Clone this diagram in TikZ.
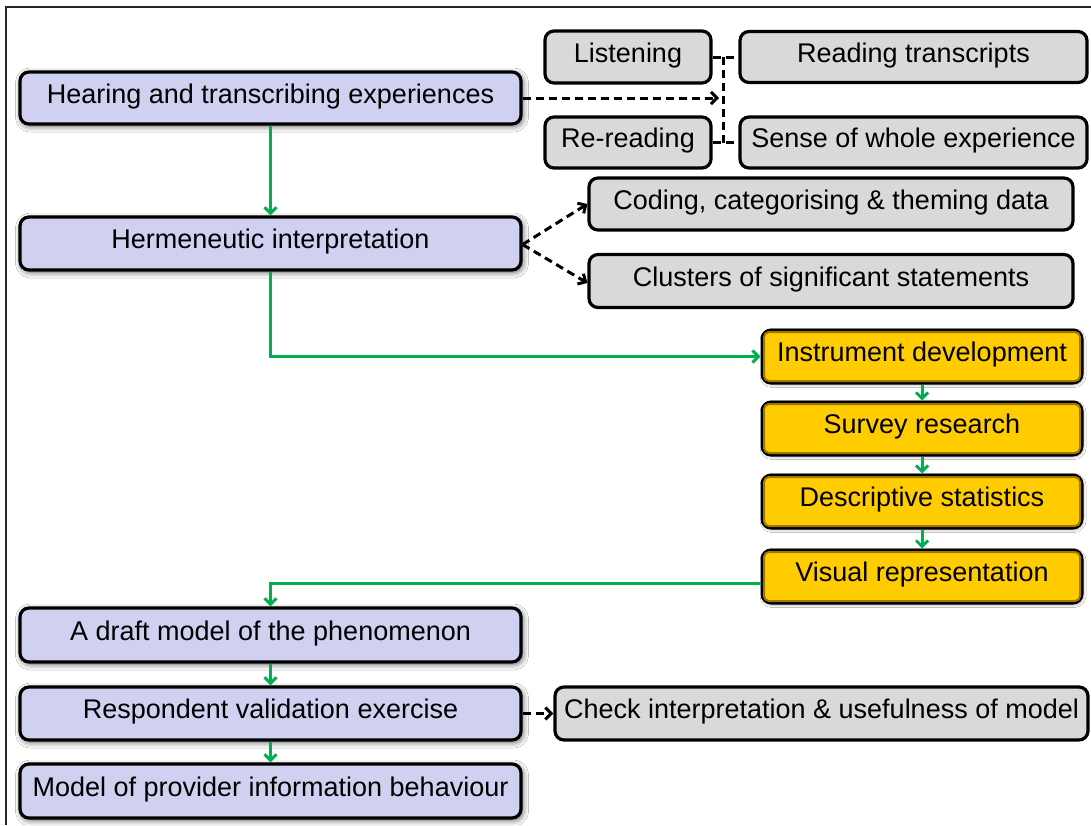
\documentclass[tikz,border=0pt]{standalone}
\usepackage{fontspec}
\setmainfont{Liberation Sans}
\usetikzlibrary{arrows.meta,shadows.blur}

\definecolor{lav}{RGB}{208,208,240}
\definecolor{greybox}{RGB}{217,217,217}
\definecolor{gold}{RGB}{255,204,0}
\definecolor{goldedge}{RGB}{160,120,0}
\definecolor{flowgreen}{RGB}{0,176,80}

\tikzset{
  box/.style={draw=black, line width=3.2pt, rounded corners=9pt,
    inner xsep=0pt, inner ysep=0pt, text height=19pt, text depth=9pt,
    font=\fontsize{27}{30}\selectfont, align=center},
  stagebox/.style={box, fill=lav,
    blur shadow={shadow xshift=1.5pt, shadow yshift=-2pt,
                 shadow blur radius=6pt, shadow opacity=70}},
  notebox/.style={box, fill=greybox},
  quantbox/.style={box, fill=gold, line width=3pt,
    blur shadow={shadow xshift=1pt, shadow yshift=-1.5pt,
                 shadow blur radius=3pt, shadow opacity=40}},
  flow/.style={draw=flowgreen, line width=3pt,
    -{Straight Barb[length=6pt,width=12pt,line width=3pt]}},
  dashlink/.style={draw=black, line width=3pt, dash pattern=on 8pt off 5pt},
  dasharrow/.style={dashlink,
    -{Straight Barb[length=6pt,width=12pt,line width=3pt]}},
}

\begin{document}
\begin{tikzpicture}[x=1pt,y=-1pt]
\useasboundingbox (0,0) rectangle (1091,825);
\fill[white] (0,0) rectangle (1091,825);
\draw[line width=1.8pt, black!85] (6,825) -- (6,7) -- (1091,7);

% qualitative stages (left column)
\node[stagebox, minimum width=501pt, minimum height=52pt] (hear) at (270.5,98) {Hearing and transcribing experiences};
\node[stagebox, minimum width=501pt, minimum height=53pt] (herm) at (270.5,243.5) {Hermeneutic interpretation};

% reading activities
\node[notebox, minimum width=166pt, minimum height=52pt] (listen) at (628,57) {Listening};
\node[notebox, minimum width=166pt, minimum height=51pt] (reread) at (628,142.5) {Re-reading};
\node[notebox, minimum width=347pt, minimum height=51pt] (readtr) at (913.5,57) {Reading transcripts};
\node[notebox, minimum width=347pt, minimum height=51pt] (sense) at (913.5,142.5) {Sense of whole experience};

% interpretation outputs
\node[notebox, minimum width=484pt, minimum height=52pt] (coding) at (831,204) {Coding, categorising \& theming data};
\node[notebox, minimum width=484pt, minimum height=53pt] (clust) at (831,281) {Clusters of significant statements};

% quantitative stages
\node[quantbox, minimum width=320pt, minimum height=53pt] (inst) at (922,356.5) {Instrument development};
\node[quantbox, minimum width=320pt, minimum height=53pt] (surv) at (922,428.5) {Survey research};
\node[quantbox, minimum width=320pt, minimum height=53pt] (desc) at (922,501.5) {Descriptive statistics};
\node[quantbox, minimum width=320pt, minimum height=53pt] (vis) at (922,576.5) {Visual representation};

% bevel inside the quantitative boxes
\foreach \n in {inst,surv,desc,vis}
  \draw[goldedge, line width=2pt, rounded corners=5pt]
    ([xshift=3.5pt,yshift=-3.5pt]\n.north west) rectangle ([xshift=-3.5pt,yshift=3.5pt]\n.south east);

% model building
\node[stagebox, minimum width=501pt, minimum height=54pt] (draft) at (270.5,635) {A draft model of the phenomenon};
\node[stagebox, minimum width=501pt, minimum height=53pt] (resp) at (270.5,713.5) {Respondent validation exercise};
\node[stagebox, minimum width=501pt, minimum height=54pt] (model) at (270.5,791) {Model of provider information behaviour};
\node[notebox, minimum width=533pt, minimum height=53pt] (check) at (821.5,713.5) {Check interpretation \& usefulness of model};

% bracket joining the reading activities
\coordinate (bartop) at (723,57);
\coordinate (barbot) at (723,142.5);
\coordinate (barhit) at (719,98);
\draw[dashlink] (listen.east) -- (readtr.west);
\draw[dashlink] (reread.east) -- (sense.west);
\draw[dashlink] (bartop) -- (barbot);
\draw[dasharrow] (hear.east |- barhit) -- (barhit);

% interpretation branches
\draw[dasharrow] ([yshift=-1pt]herm.east) -- (coding.west);
\draw[dasharrow] ([yshift=-1pt]herm.east) -- ([yshift=-2pt]clust.west);
\draw[dasharrow] (resp.east) -- (check.west);

% main green flow
\draw[flow] (hear.south) -- (herm.north);
\draw[flow] (herm.south) |- (inst.west);
\draw[flow] (inst.south) -- (surv.north);
\draw[flow] (surv.south) -- (desc.north);
\draw[flow] (desc.south) -- (vis.north);
\draw[flow] ([yshift=-6.5pt]vis.west) -| (draft.north);
\draw[flow] (draft.south) -- (resp.north);
\draw[flow] (resp.south) -- (model.north);
\end{tikzpicture}
\end{document}
